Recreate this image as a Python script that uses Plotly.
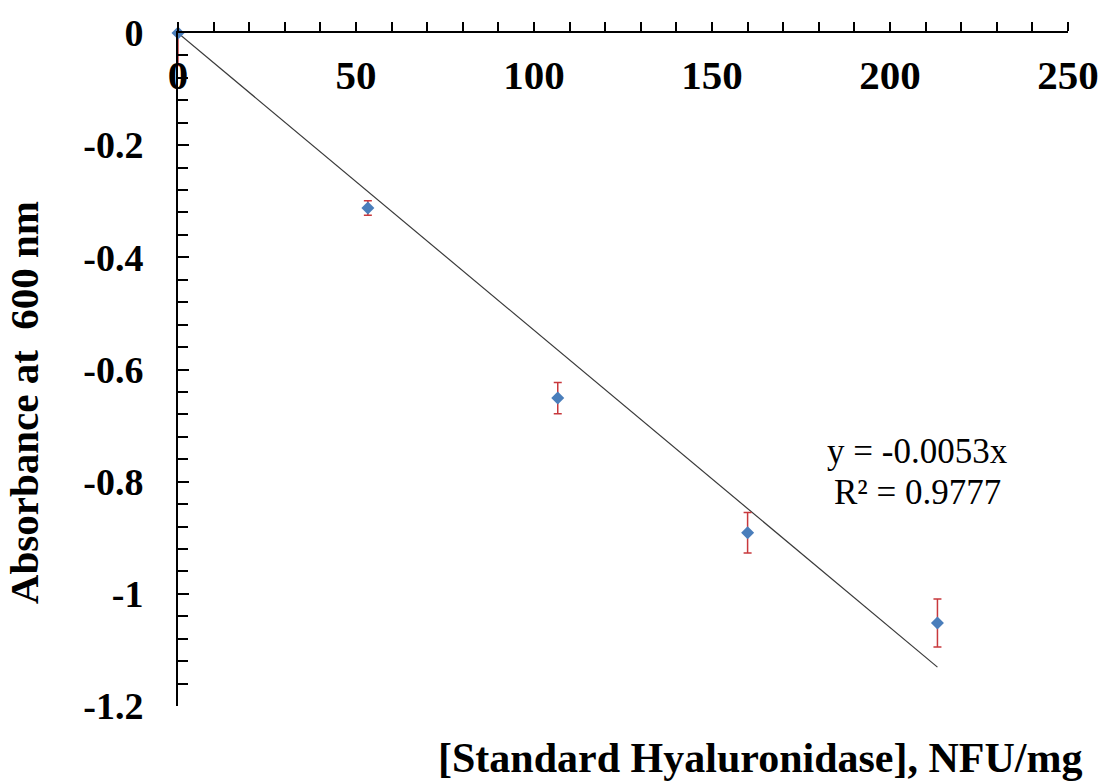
import plotly.graph_objects as go

# Standard curve: hyaluronidase activity vs absorbance
activity_nfu = [0, 53.33, 106.67, 160.0, 213.33]
absorbance = [0.0, -0.312, -0.651, -0.891, -1.052]
err_plus = [0.0, 0.013, 0.028, 0.036, 0.043]
err_minus = [0.058, 0.013, 0.028, 0.036, 0.043]

# Linear fit through the origin
slope = -0.0053
r_squared = 0.9777

y_tick_vals = [0, -0.2, -0.4, -0.6, -0.8, -1.0, -1.2]
y_tick_text = ["0", "-0.2", "-0.4", "-0.6", "-0.8", "-1", "-1.2"]
x_tick_vals = [0, 50, 100, 150, 200, 250]

serif = "Liberation Serif, Times New Roman, serif"
W, H = 1111, 783
ML, MR, MT, MB = 178, 42, 27, 77

fig = go.Figure()

fit_x = [activity_nfu[0], activity_nfu[-1]]
fig.add_trace(go.Scatter(
    x=fit_x, y=[slope * v for v in fit_x], mode="lines",
    line=dict(color="#3a3a3a", width=1.2), hoverinfo="skip", showlegend=False,
))

fig.add_trace(go.Scatter(
    x=activity_nfu, y=absorbance, mode="markers",
    marker=dict(symbol="diamond", size=10, color="#4a7ebb"),
    error_y=dict(type="data", symmetric=False, array=err_plus, arrayminus=err_minus,
                 color="#c8383c", thickness=1.5, width=4),
    cliponaxis=False, showlegend=False,
))

# Invisible trace that keeps the label-only axis (x2) alive
fig.add_trace(go.Scatter(
    x=[x_tick_vals[0]], y=[0], xaxis="x2", mode="markers",
    marker=dict(opacity=0), hoverinfo="skip", showlegend=False,
))

tick_font = dict(family=serif, size=41, color="black", weight="bold")

# The value axis crosses at y = 0 (top edge): line and ticks on top,
# numbers hanging just below the line.
fig.update_layout(
    xaxis=dict(
        range=[0, 250], side="top", showline=True, linecolor="black", linewidth=2,
        tickvals=x_tick_vals, showticklabels=False,
        ticks="outside", ticklen=9, tickwidth=2, tickcolor="black",
        minor=dict(dtick=10, tick0=0, ticks="outside", ticklen=9, tickwidth=2, tickcolor="black"),
        showgrid=False, zeroline=False,
    ),
    xaxis2=dict(
        range=[0, 250], overlaying="x", anchor="free", position=1.0, side="bottom",
        showline=False, ticks="", tickvals=x_tick_vals, ticklabelstandoff=14,
        showgrid=False, zeroline=False, tickfont=tick_font,
    ),
    yaxis=dict(
        range=[-1.2, 0], domain=[0, 1], showline=True, linecolor="black", linewidth=2,
        tickvals=y_tick_vals, ticktext=y_tick_text,
        ticks="inside", ticklen=11, tickwidth=2, tickcolor="black", ticklabelstandoff=25,
        minor=dict(dtick=0.04, tick0=0, ticks="inside", ticklen=10, tickwidth=2, tickcolor="black"),
        showgrid=False, zeroline=False,
        tickfont=dict(family=serif, size=38, color="black", weight="bold"),
    ),
)

eq_font = dict(family=serif, size=35, color="black")
fig.add_annotation(
    x=207.6, y=-0.7462, xref="x", yref="y", xanchor="center", yanchor="middle",
    text=f"y = {slope}x", showarrow=False, font=eq_font,
)
fig.add_annotation(
    x=207.6, y=-0.8187, xref="x", yref="y", xanchor="center", yanchor="middle",
    text=f"R² = {r_squared}", showarrow=False, font=eq_font,
)
fig.add_annotation(
    x=0.654, y=-0.077, xref="paper", yref="paper", xanchor="center", yanchor="middle",
    text="[Standard Hyaluronidase], NFU/mg", showarrow=False,
    font=dict(family=serif, size=42, color="black", weight="bold"),
)
fig.add_annotation(
    x=-0.173, y=0.45, xref="paper", yref="paper", xanchor="center", yanchor="middle",
    textangle=-90, text="Absorbance at\u00a0 600 nm", showarrow=False,
    font=dict(family=serif, size=41, color="black", weight="bold"),
)

fig.update_layout(
    width=W, height=H, margin=dict(l=ML, r=MR, t=MT, b=MB),
    paper_bgcolor="white", plot_bgcolor="white",
)

fig.write_html("out.html")
